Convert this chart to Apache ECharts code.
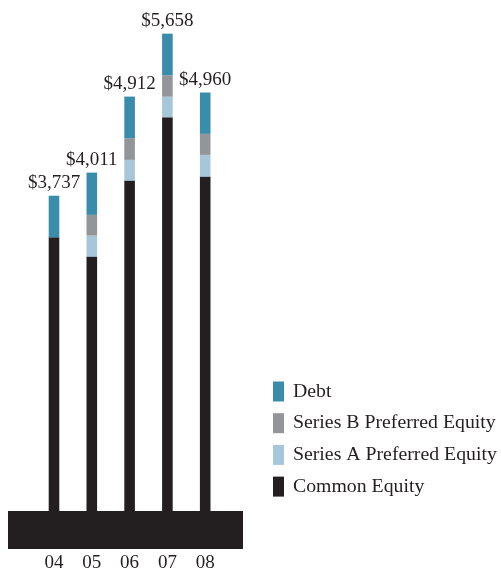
<!DOCTYPE html>
<html>
<head>
<meta charset="utf-8">
<script src="https://cdn.jsdelivr.net/npm/echarts@6/dist/echarts.min.js"></script>
<style>
html,body{margin:0;padding:0;background:#fff;}
#chart{width:501px;height:569px;}
</style>
</head>
<body>
<div id="chart"></div>
<script>
const years = ['04', '05', '06', '07', '08'];
const commonEquity = [3244, 3016, 3917, 4667, 3964];
const seriesAPreferred = [0, 249, 245, 244, 257];
const seriesBPreferred = [0, 245, 257, 254, 249];
const debt = [493, 501, 493, 493, 490];
const totals = [3737, 4011, 4912, 5658, 4960];

const FONT = '"Liberation Serif", "DejaVu Serif", serif';
const INK = '#231f20';

const chart = echarts.init(document.getElementById('chart'));
function mk(name, data, color) {
  return {
    name: name,
    type: 'bar',
    stack: 'total',
    data: data,
    barWidth: 10.6,
    itemStyle: { color: color },
    emphasis: { disabled: true }
  };
}
const debtSeries = mk('Debt', debt, '#3a8cab');
debtSeries.label = {
  show: true,
  position: 'top',
  distance: 3,
  color: INK,
  fontFamily: FONT,
  fontSize: 19,
  formatter: function (p) { return '$' + totals[p.dataIndex].toLocaleString('en-US'); }
};
chart.setOption({
  animation: false,
  grid: { left: 35.1, right: 501 - 224.1, top: 4.8, bottom: 58, outerBoundsMode: 'none', containLabel: false },
  graphic: [{
    type: 'rect',
    shape: { x: 8, y: 511, width: 235, height: 38 },
    style: { fill: INK },
    z: 0
  }],
  legend: {
    orient: 'vertical',
    left: 273,
    top: 381.5,
    padding: 0,
    itemWidth: 11,
    itemHeight: 20,
    itemGap: 11.7,
    icon: 'rect',
    data: ['Debt', 'Series B Preferred Equity', 'Series A Preferred Equity', 'Common Equity'],
    textStyle: { color: INK, fontFamily: FONT, fontSize: 19.8, padding: [0, 0, 0, 4] },
    selectedMode: false
  },
  xAxis: {
    type: 'category',
    data: years,
    axisLine: { show: false },
    axisTick: { show: false },
    axisLabel: { color: INK, fontFamily: FONT, fontSize: 19, margin: 43 },
    z: 10
  },
  yAxis: {
    type: 'value',
    min: 0,
    max: 6000,
    show: false,
    splitLine: { show: false }
  },
  series: [
    mk('Common Equity', commonEquity, INK),
    mk('Series A Preferred Equity', seriesAPreferred, '#a6c7d9'),
    mk('Series B Preferred Equity', seriesBPreferred, '#939598'),
    debtSeries
  ]
});
</script>
</body>
</html>
